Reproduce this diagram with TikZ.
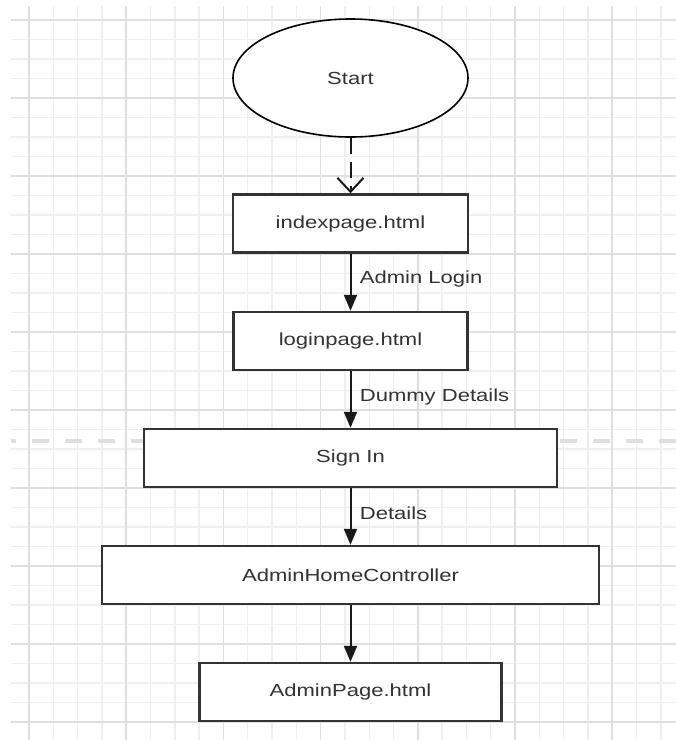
\documentclass[tikz,border=0pt]{standalone}
\usepackage{fontspec}
\setmainfont[FakeStretch=1.26]{Liberation Sans}
\usetikzlibrary{arrows.meta,shapes.geometric}

\definecolor{gridminor}{HTML}{EFEFEF}
\definecolor{gridmajor}{HTML}{DFDFDF}
\definecolor{inkgray}{HTML}{333333}

\tikzset{
    startnode/.style={ellipse, draw=black, line width=1.6pt, fill=white,
        minimum width=235pt, minimum height=118pt, inner sep=0pt},
    pagebox/.style={rectangle, draw=inkgray, line width=2.4pt, fill=white,
        minimum height=58pt, inner sep=0pt},
    flow/.style={draw=black!90, line width=2pt, -{Triangle[length=16pt,width=13pt]}},
    startflow/.style={draw=black!90, line width=2pt, dash pattern=on 16pt off 8pt,
        -{Straight Barb[length=14pt,width=26pt,line width=2pt]}},
    flowlabel/.style={right, pos=0.45, xshift=5pt, text=inkgray},
}

\begin{document}
\begin{tikzpicture}[x=1pt, y=-1pt, font=\fontsize{17.5}{21}\selectfont, text=inkgray]
    \useasboundingbox[fill=white] (0,0) rectangle (676,740);

    % Grid
    \foreach \k in {0,...,26}
        \draw[gridminor, line width=1.4pt] ({29+\k*24.3},6) -- ({29+\k*24.3},740);
    \foreach \k in {0,...,36}
        \draw[gridminor, line width=1.4pt] (11,{20+\k*19.5}) -- (676,{20+\k*19.5});
    \foreach \k in {0,4,...,24}
        \draw[gridmajor, line width=1.6pt] ({29+\k*24.3},6) -- ({29+\k*24.3},740);
    \foreach \k in {0,4,...,36}
        \draw[gridmajor, line width=1.6pt] (11,{20+\k*19.5}) -- (676,{20+\k*19.5});

    % Divider
    \draw[gridmajor, line width=3.5pt, dash pattern=on 17pt off 16pt, dash phase=12pt]
        (11,441) -- (676,441);

    % Nodes
    \node[startnode] (start) at (350.5,78) {Start};
    \node[pagebox, minimum width=235pt] (index) at (350.5,223.5) {indexpage.html};
    \node[pagebox, minimum width=234pt] (login) at (350.5,341) {loginpage.html};
    \node[pagebox, minimum width=413pt] (signin) at (350.5,458) {Sign In};
    \node[pagebox, minimum width=497pt] (homectrl) at (350.5,575) {AdminHomeController};
    \node[pagebox, minimum width=302pt] (adminpage) at (350.5,692) {AdminPage.html};

    % Arrows
    \draw[startflow] (start) -- (index);
    \draw[flow] (index) -- node[flowlabel] (lbllogin) {Admin Login} (login);
    \draw[flow] (login) -- node[flowlabel] (lbldummy) {Dummy Details} (signin);
    \draw[flow] (signin) -- node[flowlabel] (lbldetails) {Details} (homectrl);
    \draw[flow] (homectrl) -- (adminpage);
\end{tikzpicture}
\end{document}
